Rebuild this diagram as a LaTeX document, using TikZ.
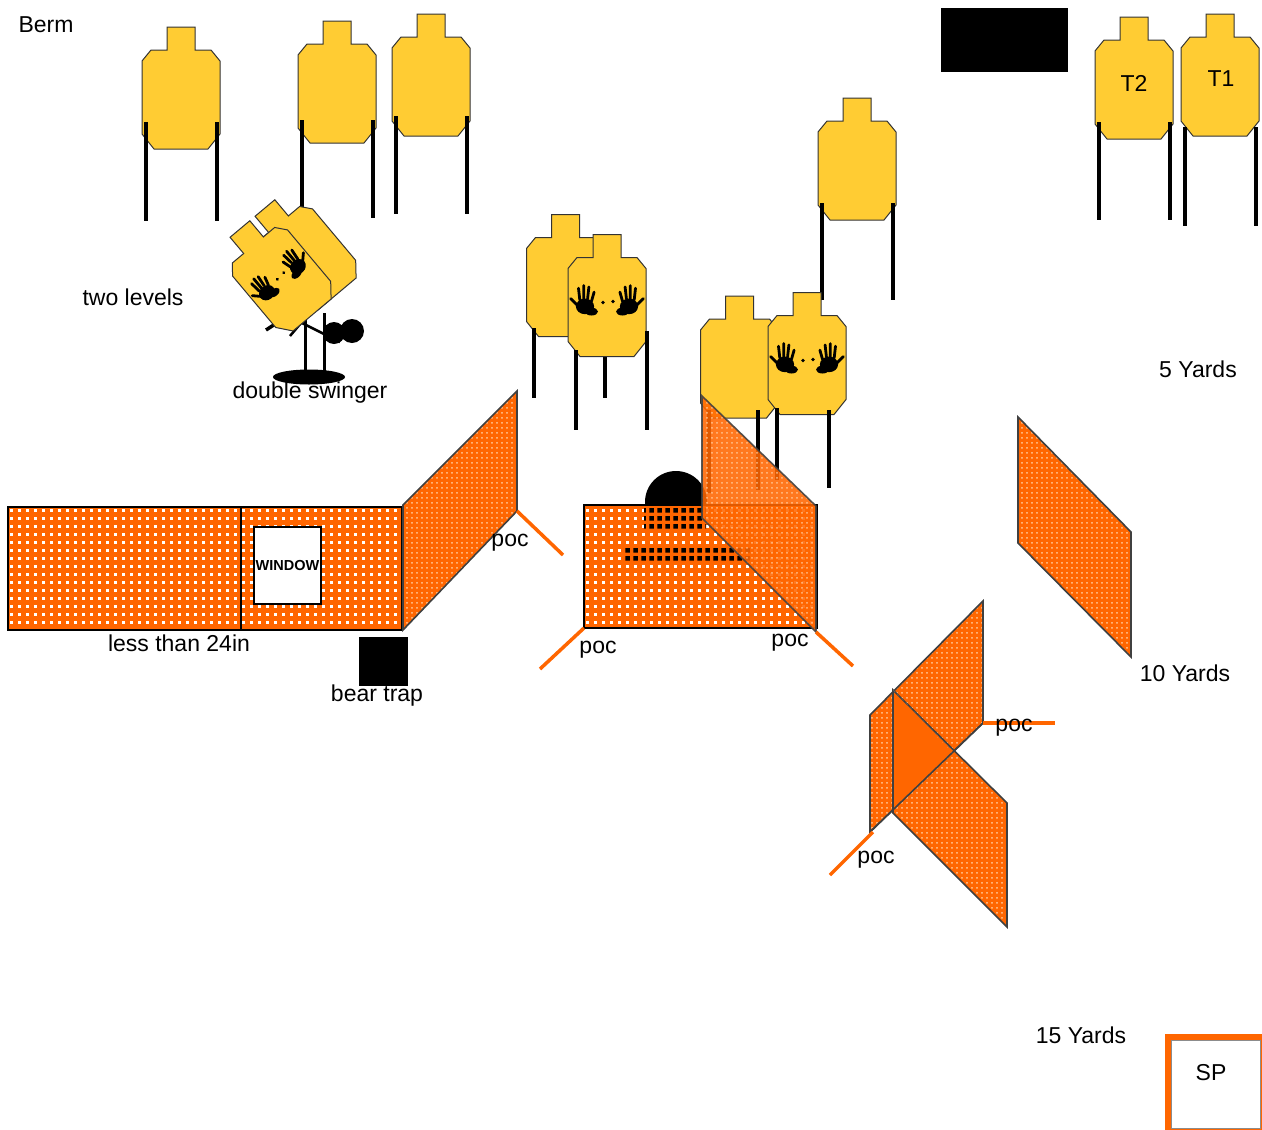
\documentclass[tikz,border=0pt]{standalone}
\usepackage{fontspec}
\setmainfont{Liberation Sans}
\usetikzlibrary{patterns,positioning}

\definecolor{targetyellow}{RGB}{255,204,51}
\definecolor{wallorange}{RGB}{255,102,0}

% perforated wall panels
\pgfdeclarepatternformonly{perfholes}{\pgfpointorigin}{\pgfpoint{8pt}{8pt}}{\pgfpoint{8pt}{8pt}}{%
  \pgfpathrectangle{\pgfpoint{2.5pt}{2.5pt}}{\pgfpoint{3pt}{3pt}}\pgfusepath{fill}}
\pgfdeclarepatternformonly{perfdark}{\pgfpointorigin}{\pgfpoint{8pt}{8pt}}{\pgfpoint{8pt}{8pt}}{%
  \pgfpathrectangle{\pgfpoint{1.5pt}{1.5pt}}{\pgfpoint{5pt}{5pt}}\pgfusepath{fill}}
\pgfdeclarepatternformonly{perfslant}{\pgfpointorigin}{\pgfpoint{5pt}{5pt}}{\pgfpoint{5pt}{5pt}}{%
  \pgfpathrectangle{\pgfpoint{1.7pt}{1.5pt}}{\pgfpoint{1.4pt}{2pt}}\pgfusepath{fill}}

% outline of a cardboard target, origin in the middle
\newcommand\targetshape{%
  \draw[draw=black!80,line width=1pt,fill=targetyellow]
    (-14,-61) -- (14,-61) -- (14,-38) -- (30,-38) -- (39,-27) -- (39,46)
    -- (27,61) -- (-27,61) -- (-39,46) -- (-39,-27) -- (-30,-38) -- (-14,-38) -- cycle;}
% black hand print
\newcommand\handprint{%
  \fill (0,3) ellipse (7 and 6);
  \fill (5,7) ellipse (5 and 3);
  \draw[line width=2.8pt,line cap=round]
    (-6,2) -- (-11,-3) (-4,-2) -- (-5,-11) (-1,-3) -- (-1,-13)
    (2,-3) -- (3,-12) (5,-1) -- (7,-8);}

\tikzset{
  target/.pic={\targetshape},
  noshoot/.pic={
    \targetshape
    \begin{scope}[shift={(-22,7)},scale=1.3] \handprint \end{scope}
    \begin{scope}[shift={(22,7)},xscale=-1.3,yscale=1.3] \handprint \end{scope}
    \fill (-4,7) circle (1.8) (6,6) circle (1.8);
  },
  frontwall/.style={preaction={fill=wallorange},pattern=perfholes,pattern color=white,
    draw=black,line width=1.6pt},
  sidewall/.style={preaction={fill=wallorange},pattern=perfslant,pattern color=orange!30!white,
    draw=black!75,line width=1.6pt},
  windowbox/.style={draw=black,line width=1.2pt,fill=white,minimum width=67pt,
    minimum height=77pt,inner sep=0pt,font=\bfseries\fontsize{14.5}{15}\selectfont}
}

\begin{document}
\begin{tikzpicture}[x=1pt,y=-1pt,
  leg/.style={line width=4pt},
  poc/.style={wallorange,line width=3.5pt},
  lbl/.style={inner sep=0pt,font=\fontsize{23}{27}\selectfont}]
\fill[white] (0,0) rectangle (1262,1130);
\useasboundingbox (0,0) rectangle (1262,1130);

% targets on stands
\foreach \x/\y/\t/\b in {181/88/122/221, 337/82/120/218, 431/75/116/214,
    857/159/203/300, 1134/78/122/220, 1220/75/127/226}{
  \pic at (\x,\y) {target};
  \draw[leg] (\x-35,\t) -- (\x-35,\b) (\x+35.5,\t) -- (\x+35.5,\b);
}
\node[lbl] (t2) at (1134,83) {T2};
\node[lbl] (t1) at (1221,79) {T1};

% double swinger
\fill (309,377) ellipse (36 and 7.5);
\draw[line width=3pt] (305,313) -- (305,375) (324,313) -- (324,375);
\draw[line width=3.5pt] (266,330) -- (349,276);
\draw[line width=2.5pt] (296,320) -- (340,342) (290,336) -- (318,303);
\pic[rotate=40,scale=.92] at (301,251) {target};
\pic[rotate=40,scale=.92] at (276,272) {noshoot};
\fill (334,333) circle (11) (352,331) circle (12);

% middle groups
\pic at (565.5,275.5) {target};
\draw[leg] (534,328) -- (534,398) (605,340) -- (605,398);
\pic at (607,295.5) {noshoot};
\draw[leg] (576,350) -- (576,430) (647,331) -- (647,430);
\pic at (739.5,357) {target};
\draw[leg] (709,410) -- (709,493) (758,410) -- (758,490);
\pic at (807,353.5) {noshoot};
\draw[leg] (777,408) -- (777,480) (829,410) -- (829,488);

% popper behind the wall
\fill (676,502) circle (31);

% walls
\path[frontwall] (8,507) rectangle (402,630);
\draw[line width=1.6pt] (241,507) -- (241,630);
\node[windowbox] (window) at (287.5,565.5) {WINDOW};
\path[sidewall] (403,505) -- (517,391) -- (517,511) -- (403,630) -- cycle;
\path[frontwall] (584,505) rectangle (817,628);
\fill[pattern=perfdark,pattern color=black] (644,507) rectangle (706,531) (622,545) rectangle (752,563);
\begin{scope}[opacity=.88]
  \path[sidewall] (702,396) -- (816,506) -- (816,632) -- (702,518) -- cycle;
\end{scope}
\path[sidewall] (1018,417) -- (1131,532) -- (1131,657) -- (1018,543) -- cycle;
\path[sidewall] (870,715) -- (983,601) -- (983,723) -- (870,832) -- cycle;
\path[sidewall] (893,690) -- (1007,803) -- (1007,927) -- (893,813) -- cycle;
\fill[wallorange] (893,692) -- (951,751) -- (893,809) -- cycle;
\draw[black!75,line width=1.6pt] (870,832) -- (983,723) (893,690) -- (893,813);
\draw[black!60,dashed] (893,690) -- (951,749);

% points of contact
\draw[poc] (517,511) -- (563,555);
\draw[poc] (584,628) -- (540,669);
\draw[poc] (816,632) -- (853,666);
\draw[poc] (983,723) -- (1055,723);
\draw[poc] (873,832) -- (830,875);

% props
\fill (359,637) rectangle (408,686);
\fill (941,8) rectangle (1068,72);
\fill[wallorange] (1165,1034) rectangle (1262,1130);
\draw[black!45,line width=.8pt,fill=white] (1171,1040) rectangle (1260,1128);

% labels
\node[lbl] (berm) at (46,25) {Berm};
\node[lbl] (levels) at (133,297) {two levels};
\node[lbl] (swinger) at (310,393) {double swinger};
\node[lbl] (yd5) at (1198,369) {5 Yards};
\node[lbl] (yd10) at (1185,673) {10 Yards};
\node[lbl] (yd15) at (1081,1035) {15 Yards};
\node[lbl] (low) at (179,643) {less than 24in};
\node[lbl] (bear) at (377,696) {bear trap};
\node[lbl] (poca) at (510,543) {poc};
\node[lbl] (pocb) at (598,650) {poc};
\node[lbl] (pocc) at (790,643) {poc};
\node[lbl] (pocd) at (1014,728) {poc};
\node[lbl] (poce) at (876,860) {poc};
\node[lbl] (sp) at (1211,1073) {SP};
\end{tikzpicture}
\end{document}
